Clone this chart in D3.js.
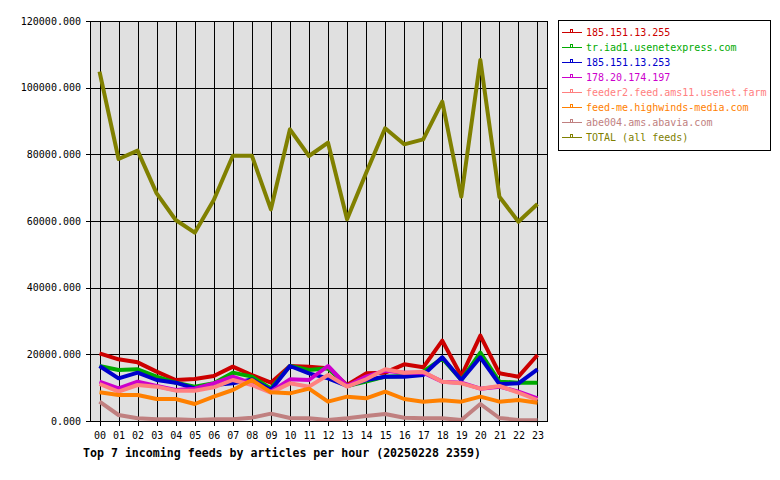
<!DOCTYPE html>
<html>
<head>
<meta charset="utf-8">
<script src="https://cdn.jsdelivr.net/npm/d3@7"></script>
<style>
  body { margin: 0; background: #fff; }
  text { font-family: "DejaVu Sans Mono", monospace; }
</style>
</head>
<body>
<div id="chart"></div>
<script>
// hours on x axis
const hours = ["00","01","02","03","04","05","06","07","08","09","10","11",
               "12","13","14","15","16","17","18","19","20","21","22","23"];

const feedNames = ["185.151.13.255", "tr.iad1.usenetexpress.com", "185.151.13.253",
  "178.20.174.197", "feeder2.feed.ams11.usenet.farm", "feed-me.highwinds-media.com",
  "abe004.ams.abavia.com", "TOTAL (all feeds)"];
const feedColors = ["#cc0000", "#00aa00", "#0000cc", "#cc00cc", "#ff8080", "#ff8000", "#c08080", "#808000"];

// articles per hour
const feed255 = [20300,18500,17600,14800,12300,12600,13500,16300,13800,11500,16500,16300,
                 15800,10800,14300,14500,17000,16100,24100,13500,25600,14300,13300,19800];
const feedIad1 = [16500,15300,15500,13300,11500,10300,11300,14500,13300,9800,16500,15300,
                  15800,10500,11800,13300,13500,14800,18800,12300,20500,11800,11500,11500];
const feed253 = [16500,12800,14500,12300,11500,9800,10800,11300,12500,9300,16500,14300,
                 12800,10500,12300,13300,13300,13800,19100,12300,19100,11100,11300,15500];
const feed197 = [11800,9800,11800,10500,9300,9700,11300,13300,11300,8800,12500,12300,
                 16500,10500,13300,15100,14500,14500,11800,11500,9700,10300,8800,6800];
const feedFarm = [11100,8800,10800,10300,9100,9100,10100,12300,10800,8500,11300,10300,
                  13800,10300,12500,15500,14500,14800,11800,11300,9700,10500,8500,6300];
const feedHighwinds = [8600,7800,7800,6600,6600,5100,7300,9300,12300,8600,8300,9700,
                       5800,7300,6800,8800,6600,5800,6200,5800,7300,5800,6300,5500];
const feedAbavia = [5800,1800,800,500,500,300,500,500,1000,2200,900,800,
                    300,800,1500,2100,1000,800,800,300,5100,900,300,200];
const feedTotal = [104800,78600,81100,68300,60300,56500,66300,79600,79600,63500,87500,79500,
                   83500,60500,74400,87800,83000,84500,95800,67300,108300,67300,59800,65100];

const seriesValues = [feed255, feedIad1, feed253, feed197, feedFarm, feedHighwinds, feedAbavia, feedTotal];
const yTicks = [0, 20000, 40000, 60000, 80000, 100000, 120000];
const chartTitle = "Top 7 incoming feeds by articles per hour (20250228 2359)";

const W = 780, H = 480;
const plot = {left: 90, right: 547, top: 21, bottom: 421};

const svg = d3.select("#chart").append("svg")
    .attr("width", W)
    .attr("height", H);

const xScale = d3.scalePoint().domain(hours).range([plot.left, plot.right]).padding(0.5);
const yScale = d3.scaleLinear().domain([0, 120000]).range([plot.bottom, plot.top]);

// plot background
svg.append("rect")
    .attr("x", plot.left).attr("y", plot.top)
    .attr("width", plot.right - plot.left).attr("height", plot.bottom - plot.top)
    .attr("fill", "#e0e0e0");

// grid
const gridG = svg.append("g").attr("shape-rendering", "crispEdges").attr("stroke", "#000");
gridG.selectAll(".vgrid").data(hours).join("line")
    .attr("class", "vgrid")
    .attr("x1", d => Math.round(xScale(d)) + 0.5).attr("x2", d => Math.round(xScale(d)) + 0.5)
    .attr("y1", plot.top).attr("y2", plot.bottom);
gridG.selectAll(".hgrid").data(yTicks).join("line")
    .attr("class", "hgrid")
    .attr("x1", plot.left).attr("x2", plot.right)
    .attr("y1", d => Math.round(yScale(d)) + 0.5).attr("y2", d => Math.round(yScale(d)) + 0.5);

// axes
const yAxisG = svg.append("g")
    .attr("transform", "translate(" + plot.left + ",0)")
    .call(d3.axisLeft(yScale).tickValues(yTicks).tickSize(4).tickPadding(5)
        .tickFormat(d3.format(".3f")));
const xAxisG = svg.append("g")
    .attr("transform", "translate(0," + plot.bottom + ")")
    .call(d3.axisBottom(xScale).tickSize(5).tickPadding(6));
[yAxisG, xAxisG].forEach(g => {
    g.select(".domain").remove();
    g.selectAll("line").attr("stroke", "#000").attr("shape-rendering", "crispEdges");
    g.selectAll("text").attr("fill", "#000").style("font-size", "10px")
        .style("font-family", "'DejaVu Sans Mono', monospace");
});

// series lines
const line = d3.line()
    .x((d, i) => xScale(hours[i]))
    .y(d => yScale(d));

svg.append("g").selectAll("path")
    .data(seriesValues)
    .join("path")
    .attr("d", d => line(d))
    .attr("fill", "none")
    .attr("stroke", (d, i) => feedColors[i])
    .attr("stroke-width", 4)
    .attr("stroke-linejoin", "round");

// plot border
svg.append("rect")
    .attr("x", plot.left + 0.5).attr("y", plot.top + 0.5)
    .attr("width", plot.right - plot.left).attr("height", plot.bottom - plot.top)
    .attr("fill", "none").attr("stroke", "#000")
    .attr("shape-rendering", "crispEdges");

// legend
const legend = svg.append("g");
legend.append("rect")
    .attr("x", 558.5).attr("y", 20.5).attr("width", 212).attr("height", 130)
    .attr("fill", "#fff").attr("stroke", "#000").attr("shape-rendering", "crispEdges");
const itemG = legend.selectAll(".item").data(feedNames).join("g")
    .attr("class", "item")
    .attr("transform", (d, i) => "translate(0," + (32.5 + i * 15) + ")");
itemG.append("line")
    .attr("x1", 562).attr("x2", 582).attr("y1", 0).attr("y2", 0)
    .attr("stroke", (d, i) => feedColors[i]).attr("shape-rendering", "crispEdges");
itemG.append("rect")
    .attr("x", 570.5).attr("y", -3).attr("width", 2).attr("height", 3)
    .attr("fill", "none").attr("stroke", (d, i) => feedColors[i]).attr("shape-rendering", "crispEdges");
itemG.append("text")
    .attr("x", 586).attr("y", 0).attr("dy", "0.35em")
    .attr("fill", (d, i) => feedColors[i])
    .style("font-size", "10px")
    .text(d => d);

// title
svg.append("text")
    .attr("x", 83).attr("y", 457)
    .style("font-size", "11.6px").style("font-weight", "bold")
    .attr("fill", "#000")
    .text(chartTitle);
</script>
</body>
</html>
